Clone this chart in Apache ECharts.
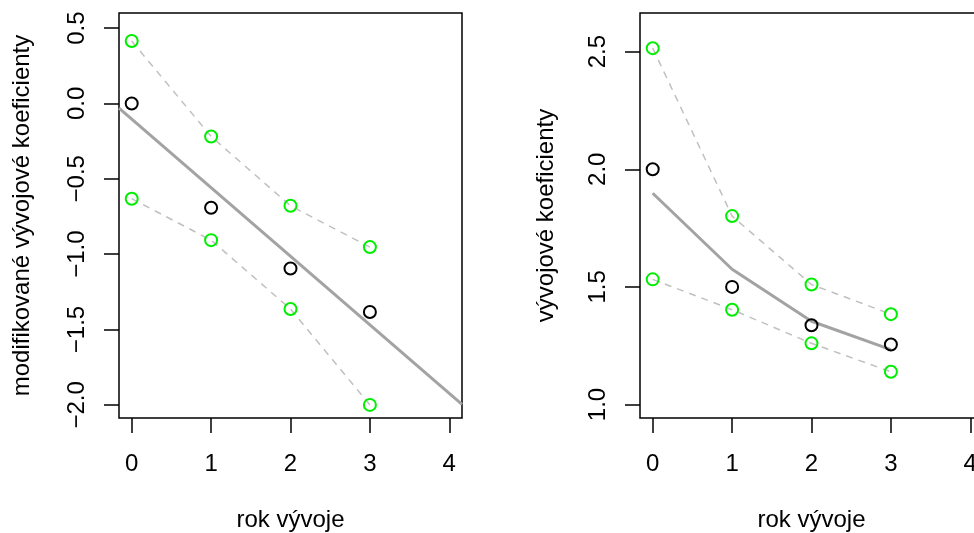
<!DOCTYPE html>
<html>
<head>
<meta charset="utf-8">
<script src="https://cdn.jsdelivr.net/npm/echarts@6/dist/echarts.min.js"></script>
<style>
  html, body { margin: 0; padding: 0; background: #ffffff; }
  #chart { width: 974px; height: 533px; }
</style>
</head>
<body>
<div id="chart"></div>
<script>
// Development years on the x axis
const years = [0, 1, 2, 3];
const xTicks = [0, 1, 2, 3, 4];

// Left panel: modified development factors, log(f - 1)
const modFactors = [0.0, -0.692, -1.095, -1.384];
const modUpper = [0.414, -0.219, -0.679, -0.953];
const modLower = [-0.632, -0.907, -1.364, -2.0];
// Regression line of the modified factors: [intercept, slope]
const modFit = [-0.104, -0.455];
const modTicks = [-2.0, -1.5, -1.0, -0.5, 0.0, 0.5];

// Right panel: development factors
const factors = [2.0, 1.5, 1.337, 1.255];
const factorsUpper = [2.515, 1.801, 1.510, 1.384];
const factorsLower = [1.532, 1.403, 1.260, 1.139];
const factorsFit = [1.898, 1.575, 1.354, 1.233];
const factorTicks = [1.0, 1.5, 2.0, 2.5];

const FONT = 'Liberation Sans';
const FS = 24;
const GREEN = '#00ee00';
const FIT_GRAY = '#a3a3a3';
const DASH_GRAY = '#c0c0c0';

const xRange = [-0.16, 4.16];
const pairs = (xs, ys) => xs.map((x, i) => [x, ys[i]]);
const fmtMinus = v => (v < 0 ? '\u2212' : '') + Math.abs(v).toFixed(1);

function xAxisFor(gridIndex) {
  return {
    type: 'value', gridIndex,
    min: xRange[0], max: xRange[1],
    name: 'rok vývoje', nameLocation: 'middle', nameGap: 90,
    nameTextStyle: { fontFamily: FONT, fontSize: FS, color: '#000' },
    axisLine: { show: false, onZero: false },
    axisTick: { show: true, length: 15, customValues: xTicks,
                lineStyle: { color: '#000', width: 1.5 } },
    axisLabel: { customValues: xTicks, margin: 34, fontFamily: FONT, fontSize: FS,
                 color: '#000', formatter: v => String(v) },
    splitLine: { show: false }
  };
}

function yAxisFor(gridIndex, min, max, ticks, name, gap) {
  return {
    type: 'value', gridIndex, min, max,
    name, nameLocation: 'middle', nameGap: gap,
    nameTextStyle: { fontFamily: FONT, fontSize: FS, color: '#000' },
    axisLine: { show: false, onZero: false },
    axisTick: { show: true, length: 15, customValues: ticks,
                lineStyle: { color: '#000', width: 1.5 } },
    axisLabel: { customValues: ticks, rotate: 90, margin: 30, fontFamily: FONT,
                 fontSize: FS, color: '#000', formatter: fmtMinus },
    splitLine: { show: false }
  };
}

function dashed(xi, yi, data) {
  return {
    type: 'line', xAxisIndex: xi, yAxisIndex: yi, data,
    symbol: 'circle', symbolSize: 12,
    lineStyle: { color: DASH_GRAY, width: 1.5, type: [7, 6] },
    itemStyle: { color: 'rgba(0,0,0,0)', borderColor: GREEN, borderWidth: 2, opacity: 1 },
    z: 3, silent: true, animation: false
  };
}

function points(xi, yi, data) {
  return {
    type: 'scatter', xAxisIndex: xi, yAxisIndex: yi, data,
    symbol: 'circle', symbolSize: 12,
    itemStyle: { color: 'rgba(0,0,0,0)', borderColor: '#000', borderWidth: 2, opacity: 1 },
    z: 4, silent: true, animation: false
  };
}

// Straight fitted line across the whole plot region
const fitEnds = xRange.map(x => [x, modFit[0] + modFit[1] * x]);

const option = {
  backgroundColor: '#ffffff',
  animation: false,
  grid: [
    { left: 119, top: 13, width: 343, height: 405, show: true, outerBoundsMode: 'none',
      containLabel: false, borderColor: '#000', borderWidth: 1.5, backgroundColor: 'transparent' },
    { left: 640, top: 13, width: 343, height: 405, show: true, outerBoundsMode: 'none',
      containLabel: false, borderColor: '#000', borderWidth: 1.5, backgroundColor: 'transparent' }
  ],
  xAxis: [xAxisFor(0), xAxisFor(1)],
  yAxis: [
    yAxisFor(0, -2.087, 0.6, modTicks, 'modifikované vývojové koeficienty', 85),
    yAxisFor(1, 0.9425, 2.6645, factorTicks, 'vývojové koeficienty', 82)
  ],
  series: [
    points(0, 0, pairs(years, modFactors)),
    { type: 'line', xAxisIndex: 0, yAxisIndex: 0, data: fitEnds, symbol: 'none',
      lineStyle: { color: FIT_GRAY, width: 3 }, z: 2, silent: true, clip: true },
    dashed(0, 0, pairs(years, modUpper)),
    dashed(0, 0, pairs(years, modLower)),

    points(1, 1, pairs(years, factors)),
    { type: 'line', xAxisIndex: 1, yAxisIndex: 1, data: pairs(years, factorsFit),
      symbol: 'none', lineStyle: { color: FIT_GRAY, width: 3 }, z: 2, silent: true },
    dashed(1, 1, pairs(years, factorsUpper)),
    dashed(1, 1, pairs(years, factorsLower))
  ]
};

const chart = echarts.init(document.getElementById('chart'), null, { renderer: 'canvas' });
chart.setOption(option);
</script>
</body>
</html>
